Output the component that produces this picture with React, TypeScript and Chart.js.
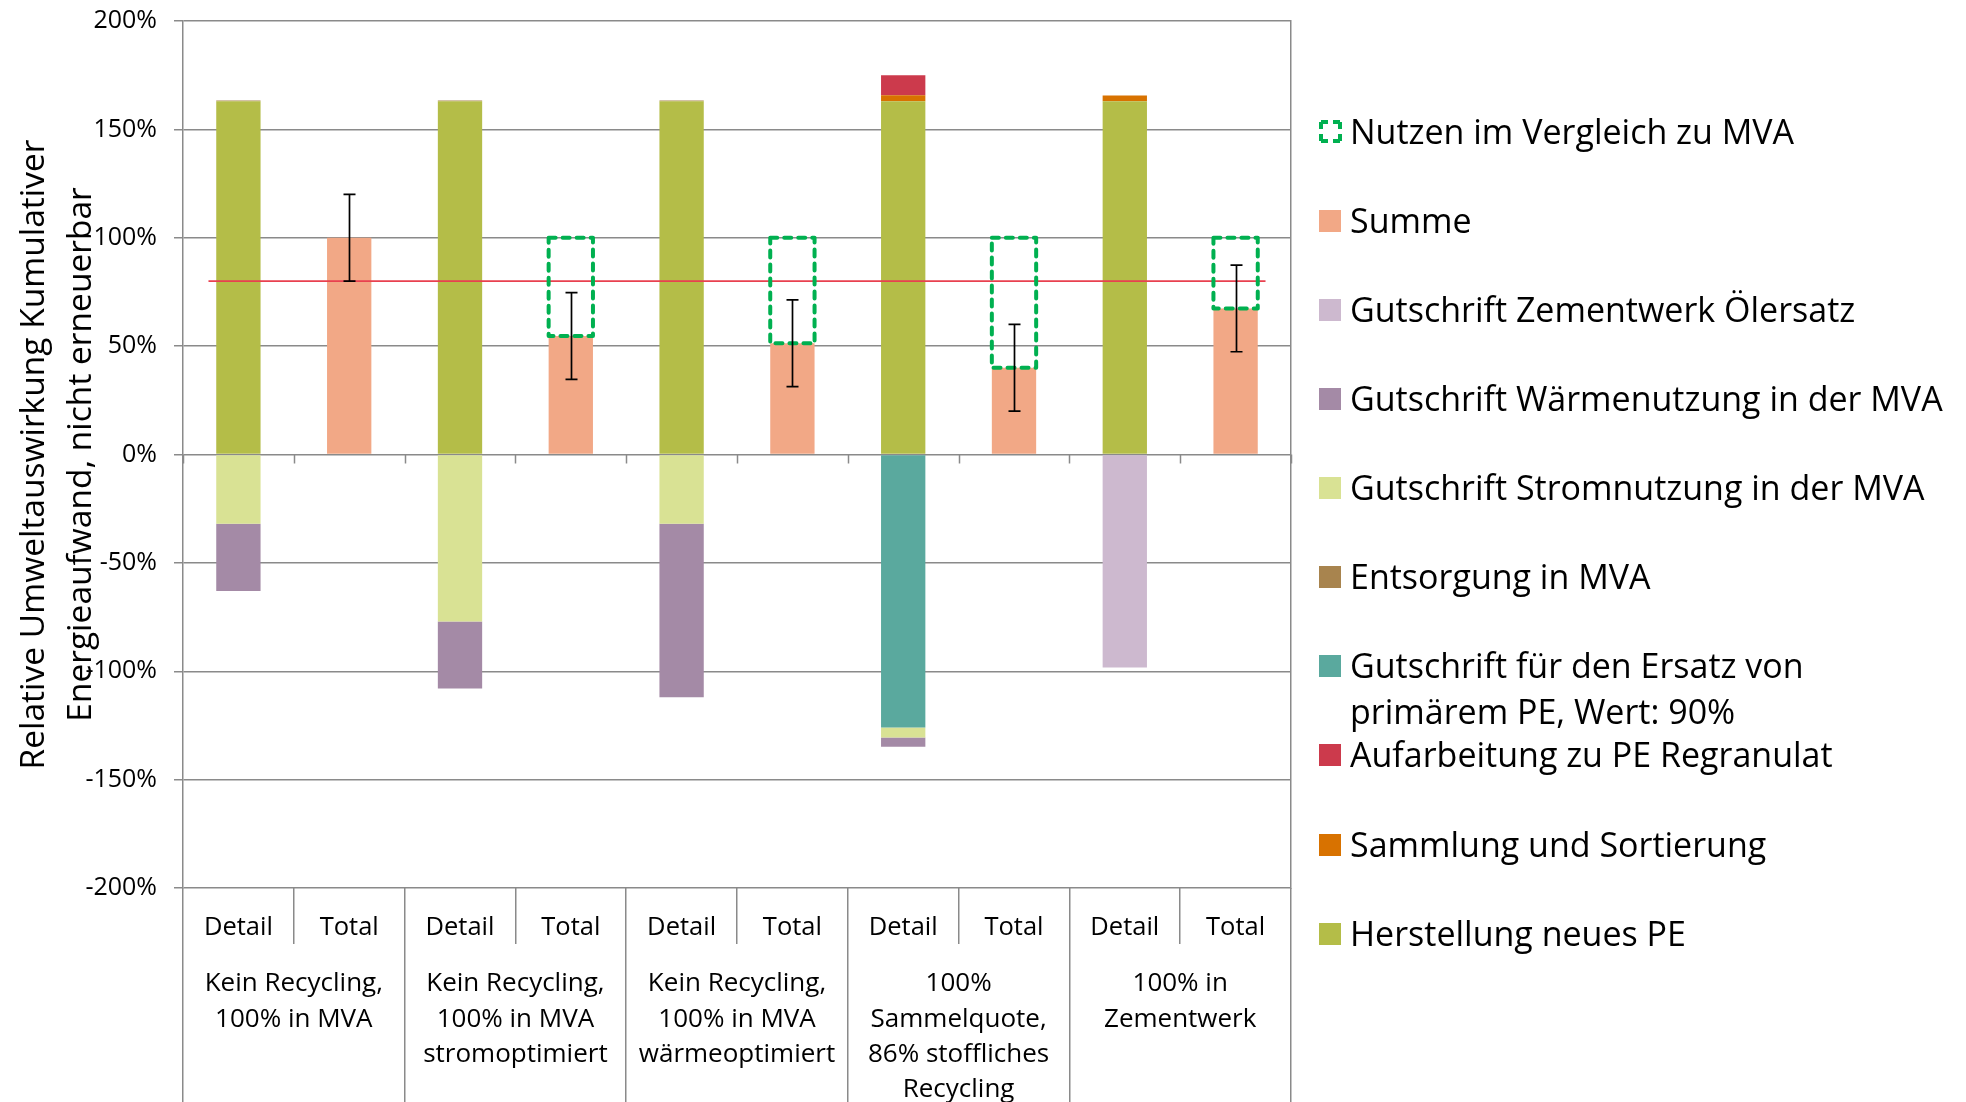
import React, { useEffect, useRef } from "react";
import { Chart, registerables } from "chart.js";

Chart.register(...registerables);

// ---------- data ----------
const subLabels = ["Detail", "Total", "Detail", "Total", "Detail", "Total", "Detail", "Total", "Detail", "Total"];
const groupLabels = [
  ["Kein Recycling,", "100% in MVA"],
  ["Kein Recycling,", "100% in MVA", "stromoptimiert"],
  ["Kein Recycling,", "100% in MVA", "wärmeoptimiert"],
  ["100%", "Sammelquote,", "86% stoffliches", "Recycling"],
  ["100% in", "Zementwerk"],
];

const herstellung = [163, null, 163, null, 163, null, 163, null, 163, null];
const sammlung = [null, null, null, null, null, null, 2.8, null, 2.6, null];
const aufarbeitung = [null, null, null, null, null, null, 9.2, null, null, null];
const gutschriftPE = [null, null, null, null, null, null, -126, null, null, null];
const entsorgung = [0.3, null, 0.3, null, 0.3, null, null, null, null, null];
const strom = [-32, null, -77, null, -32, null, -4.6, null, null, null];
const waerme = [-31, null, -31, null, -80, null, -4.2, null, null, null];
const zement = [null, null, null, null, null, null, null, null, -98.3, null];
const summe = [null, 100, null, 54.7, null, 51.3, null, 40, null, 67.4];
const nutzen = [null, null, null, 45.3, null, 48.7, null, 60, null, 32.6];
const errorPlus = [null, 20, null, 20, null, 20, null, 20, null, 20];
const errorMinus = [null, 20, null, 20, null, 20, null, 20, null, 20];
// reference line (category-index positions, value in %)
const refLineX = [-0.27, 9.27];
const refLineY = [80, 80];

const yTitle = ["Relative Umweltauswirkung Kumulativer", "Energieaufwand, nicht erneuerbar"];

const names = {
  nutzen: "Nutzen im Vergleich zu MVA",
  summe: "Summe",
  zement: "Gutschrift Zementwerk Ölersatz",
  waerme: "Gutschrift Wärmenutzung in der MVA",
  strom: "Gutschrift Stromnutzung in der MVA",
  entsorgung: "Entsorgung in MVA",
  gutschriftPE: "Gutschrift für den Ersatz von\nprimärem PE, Wert: 90%",
  aufarbeitung: "Aufarbeitung zu PE Regranulat",
  sammlung: "Sammlung und Sortierung",
  herstellung: "Herstellung neues PE",
};

const colors = {
  nutzen: "#00B050",
  summe: "#F2A886",
  zement: "#CDB9CF",
  waerme: "#A48AA6",
  strom: "#D9E294",
  entsorgung: "#A8844E",
  gutschriftPE: "#5AA99E",
  aufarbeitung: "#CC3A4C",
  sammlung: "#D87200",
  herstellung: "#B4BD48",
  refLine: "#E8414F",
};

const legendOrder = ["nutzen", "summe", "zement", "waerme", "strom", "entsorgung", "gutschriftPE", "aufarbeitung", "sammlung", "herstellung"];

const GRID = "#8a8a8a";
const FONT = "'Open Sans', 'Noto Sans', sans-serif";

const overlayPlugin = {
  id: "overlay",
  afterDatasetsDraw(chart: any) {
    const ctx = chart.ctx;
    const xs = chart.scales.x;
    const ys = chart.scales.y;
    // small tick marks on the zero line at category boundaries
    const y0 = ys.getPixelForValue(0);
    ctx.save();
    ctx.strokeStyle = GRID;
    ctx.lineWidth = 1.5;
    for (let i = 0; i <= subLabels.length; i++) {
      const px = Math.round(xs.getPixelForValue(i - 0.5)) + 0.5;
      ctx.beginPath();
      ctx.moveTo(px, y0);
      ctx.lineTo(px, y0 + 9);
      ctx.stroke();
    }
    ctx.restore();

    // reference line
    ctx.save();
    ctx.strokeStyle = colors.refLine;
    ctx.lineWidth = 1.6;
    ctx.beginPath();
    ctx.moveTo(xs.getPixelForValue(refLineX[0]), ys.getPixelForValue(refLineY[0]));
    ctx.lineTo(xs.getPixelForValue(refLineX[1]), ys.getPixelForValue(refLineY[1]));
    ctx.stroke();
    ctx.restore();

    // dashed benefit boxes
    const nIdx = chart.data.datasets.findIndex((d: any) => d.key === "nutzen");
    const nMeta = chart.getDatasetMeta(nIdx);
    ctx.save();
    ctx.strokeStyle = colors.nutzen;
    ctx.lineWidth = 4;
    ctx.lineCap = "round";
    ctx.lineJoin = "round";
    ctx.setLineDash([7, 7]);
    nMeta.data.forEach((el: any, i: number) => {
      if (nutzen[i] == null) return;
      const p = el.getProps(["x", "y", "base", "width"], true);
      const left = p.x - p.width / 2;
      const top = Math.min(p.y, p.base);
      const h = Math.abs(p.base - p.y);
      ctx.strokeRect(left, top, p.width, h);
    });
    ctx.restore();

    // error bars on Summe
    const sIdx = chart.data.datasets.findIndex((d: any) => d.key === "summe");
    const sMeta = chart.getDatasetMeta(sIdx);
    ctx.save();
    ctx.strokeStyle = "#000";
    ctx.lineWidth = 1.7;
    sMeta.data.forEach((el: any, i: number) => {
      const v = summe[i];
      if (v == null) return;
      const x = Math.round(el.x) + 0.5;
      const yt = ys.getPixelForValue(v + (errorPlus[i] as number));
      const yb = ys.getPixelForValue(v - (errorMinus[i] as number));
      ctx.beginPath();
      ctx.moveTo(x, yt);
      ctx.lineTo(x, yb);
      ctx.moveTo(x - 6, yt);
      ctx.lineTo(x + 6, yt);
      ctx.moveTo(x - 6, yb);
      ctx.lineTo(x + 6, yb);
      ctx.stroke();
    });
    ctx.restore();
  },
};

function barDs(key: string, data: (number | null)[]) {
  return {
    key,
    type: "bar" as const,
    label: (names as any)[key],
    data,
    backgroundColor: (colors as any)[key],
    borderWidth: 0,
    barPercentage: 0.4,
    categoryPercentage: 1.0,
    grouped: false,
    stack: "main",
    xAxisID: "x",
    yAxisID: "y",
  };
}

export default function App() {
  const canvasRef = useRef<HTMLCanvasElement | null>(null);

  useEffect(() => {
    if (!canvasRef.current) return;
    Chart.defaults.font.family = FONT;
    const datasets: any[] = [
      barDs("herstellung", herstellung),
      barDs("sammlung", sammlung),
      barDs("aufarbeitung", aufarbeitung),
      barDs("gutschriftPE", gutschriftPE),
      barDs("entsorgung", entsorgung),
      barDs("strom", strom),
      barDs("waerme", waerme),
      barDs("zement", zement),
      barDs("summe", summe),
      { ...barDs("nutzen", nutzen), backgroundColor: "rgba(0,0,0,0)" },
    ];

    const chart = new Chart(canvasRef.current, {
      type: "bar",
      data: { labels: subLabels, datasets },
      plugins: [overlayPlugin],
      options: {
        responsive: false,
        animation: false,
        devicePixelRatio: 1,
        layout: { padding: { left: 0, right: 675, top: 21, bottom: 0 } },
        plugins: { legend: { display: false }, tooltip: { enabled: false } },
        scales: {
          x: {
            type: "category",
            position: "bottom",
            stacked: true,
            offset: true,
            weight: 0,
            grid: { offset: true, drawOnChartArea: false, drawTicks: true, tickLength: 56, color: GRID, lineWidth: 1.5 },
            border: { display: false },
            ticks: { font: { family: FONT, size: 25.5 }, color: "#000", padding: -31.5, autoSkip: false, maxRotation: 0, minRotation: 0 },
            afterFit: (s: any) => { s.height = 56; s.paddingLeft = 0; s.paddingRight = 0; },
          },
          x2: {
            type: "category",
            position: "bottom",
            labels: groupLabels as any,
            offset: true,
            weight: 1,
            grid: { offset: true, drawOnChartArea: false, drawTicks: true, tickLength: 158, color: GRID, lineWidth: 1.5 },
            border: { display: false },
            ticks: { font: { family: FONT, size: 26, lineHeight: 1.35 }, color: "#000", padding: -135.5, autoSkip: false, maxRotation: 0, minRotation: 0 },
            afterFit: (s: any) => { s.height = 158; s.paddingLeft = 0; s.paddingRight = 0; },
          },
          y: {
            type: "linear",
            position: "left",
            stacked: true,
            min: -200,
            max: 200,
            ticks: {
              stepSize: 50,
              callback: (v: any) => v + "%",
              font: { family: FONT, size: 25 },
              color: "#000",
              padding: 17,
            },
            grid: { color: GRID, lineWidth: 1.5, tickLength: 9, drawTicks: true },
            border: { display: true, color: GRID, width: 1.5 },
            title: {
              display: true,
              text: yTitle,
              font: { family: FONT, size: 33.5, lineHeight: 1.4 },
              color: "#000",
              padding: { top: 11, bottom: 0 },
            },
            afterFit: (s: any) => { s.width = 183; s.paddingTop = 0; s.paddingBottom = 0; },
          },
          y2: {
            type: "linear",
            position: "right",
            display: true,
            grid: { drawOnChartArea: false, drawTicks: false },
            ticks: { display: false },
            border: { display: true, color: GRID, width: 1.5 },
            afterFit: (s: any) => { s.width = 0; s.paddingTop = 0; s.paddingBottom = 0; },
          },
        } as any,
      },
    } as any);
    return () => chart.destroy();
  }, []);

  const legendLeft = 1319;
  const firstCenter = 131.7;
  const step = 89.1;

  return (
    <div style={{ position: "fixed", left: 0, top: 0, width: 1966, height: 1102, background: "#fff", overflow: "hidden" }}>
      <canvas ref={canvasRef} width={1966} height={1102} style={{ display: "block", width: 1966, height: 1102 }} />
      {legendOrder.map((key, i) => {
        const center = firstCenter + step * i;
        const isBox = key === "nutzen";
        return (
          <div
            key={key}
            style={{
              position: "absolute",
              left: legendLeft,
              top: center - 24,
              fontFamily: FONT,
              fontSize: 34,
              lineHeight: "46px",
              color: "#000",
              whiteSpace: "pre",
            }}
          >
            {isBox ? (
              <svg width={23} height={23} style={{ position: "absolute", left: 0, top: 12 }}>
                <rect x={2} y={2} width={19} height={19} fill="none" stroke={colors.nutzen} strokeWidth={4} strokeDasharray="7 5 7 0" />
              </svg>
            ) : (
              <span
                style={{
                  position: "absolute",
                  left: 0,
                  top: 13,
                  width: 22,
                  height: 22,
                  background: (colors as any)[key],
                }}
              />
            )}
            <span style={{ display: "block", marginLeft: 31 }}>{(names as any)[key]}</span>
          </div>
        );
      })}
    </div>
  );
}
